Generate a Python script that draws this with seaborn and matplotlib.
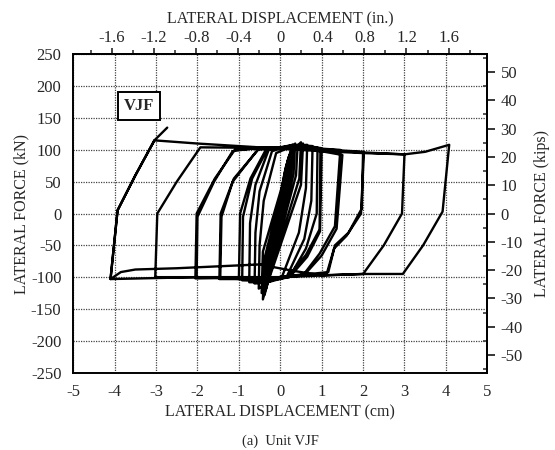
import numpy as np
import pandas as pd
import seaborn as sns
import matplotlib.pyplot as plt
from matplotlib.ticker import MultipleLocator, FixedLocator

# hysteresis path: displacement (cm), lateral force (kN)
# small cycles around the origin
inner_disp = [0.00, 0.08, 0.06, -0.05, -0.10, -0.08, 0.06, 0.12, 0.10, -0.08, -0.15,
              -0.12, 0.08, 0.16, 0.13, -0.12, -0.20, -0.17, 0.10, 0.20, 0.17, -0.15, -0.25,
              -0.22, 0.13, 0.25, 0.22, -0.20, -0.30, -0.27, 0.17, 0.30, 0.26, -0.22, -0.34,
              -0.30, 0.20, 0.36, 0.32, -0.25, -0.38, -0.34, 0.25, 0.42, 0.38, -0.28, -0.42,
              -0.38, 0.28, 0.50, 0.46, -0.30, -0.45, -0.42, 0.30, 0.55, 0.50, -0.30, -0.52]
inner_force = [0, 38, 20, -25, -40, -20, 35, 55, 30, -38, -58,
               -30, 48, 72, 40, -52, -75, -40, 62, 88, 50, -65, -92,
               -50, 72, 98, 55, -78, -105, -58, 80, 105, 60, -88, -118,
               -65, 88, 110, 62, -95, -128, -70, 92, 108, 60, -100, -135,
               -70, 98, 112, 55, -105, -125, -60, 100, 110, 45, -108, -118]

# medium cycles, about +/-0.6 to +/-1.5 cm
mid_disp = [-0.50, -0.40, -0.10, 0.30, 0.65, 0.62, 0.45, 0.05, -0.30, -0.62,
            -0.60, -0.50, -0.20, 0.30, 0.78, 0.75, 0.58, 0.15, -0.30, -0.75,
            -0.73, -0.60, -0.28, 0.30, 0.90, 0.88, 0.62, 0.22, -0.30, -0.92,
            -0.90, -0.68, -0.32, 0.30, 0.97, 0.95, 0.62, 0.20, -0.30, -1.00,
            -0.97, -0.72, -0.35, 0.30, 1.00, 0.96, 0.65, 0.25, -0.30, -1.45,
            -1.42, -1.15, -0.55, 0.30, 1.50, 1.36, 1.00, 0.60, -0.30, -1.47,
            -1.44, -1.12, -0.50, 0.30, 1.45, 1.32, 0.95, 0.55, -0.30, -2.02]
mid_force = [-50, 20, 95, 106, 108, 40, -30, -98, -108, -110,
             -30, 35, 98, 108, 106, 20, -40, -100, -108, -108,
             -15, 45, 100, 108, 104, 0, -55, -100, -106, -105,
             -5, 55, 100, 106, 103, -25, -65, -98, -105, -103,
             0, 55, 100, 106, 102, -28, -68, -98, -104, -102,
             -5, 50, 100, 106, 92, -24, -66, -95, -103, -103,
             0, 55, 103, 105, 100, -20, -63, -97, -104, -100]

# large cycles: 2, 3 and 4 cm, then the last reloading branch
outer_disp = [-2.00, -1.60, -1.15, -0.50, 0.50, 2.00, 1.97, 1.65, 1.32, 1.16, 0.00, -2.05,
              -2.02, -1.58, -1.10, 0.00, 2.02, 1.95, 1.60, 1.30, 1.12, 0.00, -3.02,
              -2.97, -2.50, -1.93, 0.00, 2.00, 3.00, 2.94, 2.50, 2.00, 0.00, -2.00, -4.10,
              -3.93, -3.50, -3.04, -2.00, -1.00, 0.00, 1.00, 2.00, 3.00, 3.50, 4.08,
              3.92, 3.45, 2.96, 2.00, 1.00, 0.30, -0.50, -1.50, -2.50, -3.50, -3.85, -4.10,
              -3.93, -3.50, -3.04, -2.73]
outer_force = [-5, 50, 98, 104, 103, 97, 8, -30, -50, -92, -100, -102,
               0, 55, 100, 104, 96, 0, -35, -55, -95, -100, -100,
               0, 50, 104, 103, 96, 93, 0, -50, -95, -100, -100, -103,
               5, 60, 115, 110, 106, 102, 98, 95, 93, 97, 108,
               3, -50, -95, -95, -97, -90, -80, -83, -86, -88, -92, -103,
               5, 60, 115, 135]

cm_ticks = [-5, -4, -3, -2, -1, 0, 1, 2, 3, 4, 5]
kn_ticks = [-250, -200, -150, -100, -50, 0, 50, 100, 150, 200, 250]
in_ticks = [-1.6, -1.2, -0.8, -0.4, 0, 0.4, 0.8, 1.2, 1.6]
in_labels = ['-1.6', '-1.2', '-0.8', '-0.4', '0', '0.4', '0.8', '1.2', '1.6']
kip_ticks = [-50, -40, -30, -20, -10, 0, 10, 20, 30, 40, 50]

KN_PER_KIP = 4.448
CM_PER_IN = 2.54

path = pd.DataFrame({
    'disp': inner_disp + mid_disp + outer_disp,
    'force': inner_force + mid_force + outer_force,
})

sns.set_style('white')
plt.rcParams['font.family'] = ['Liberation Serif', 'DejaVu Serif']
plt.rcParams['axes.unicode_minus'] = False

fig = plt.figure(figsize=(5.55, 4.5), dpi=100)
ax = fig.add_axes([0.132, 0.172, 0.746, 0.707])

sns.lineplot(data=path, x='disp', y='force', sort=False, estimator=None,
             color='black', linewidth=1.7, ax=ax)

ax.set_xlim(-5, 5)
ax.set_ylim(-250, 250)
ax.xaxis.set_major_locator(FixedLocator(cm_ticks))
ax.yaxis.set_major_locator(FixedLocator(kn_ticks))
ax.xaxis.set_minor_locator(MultipleLocator(0.5))
ax.yaxis.set_minor_locator(MultipleLocator(25))
ax.grid(True, which='major', color='#444444', linestyle=(0, (1, 1)), linewidth=0.9)
for s in ax.spines.values():
    s.set_linewidth(1.4)
    s.set_color('black')
ax.tick_params(which='major', direction='out', length=5, width=1.3, labelsize=12)
ax.tick_params(which='minor', direction='in', length=3, width=1.1)
ax.tick_params(axis='x', which='both', top=False)
ax.tick_params(axis='y', which='both', right=False)

ax.set_xlabel('LATERAL DISPLACEMENT (cm)', fontsize=11.5, labelpad=3)
ax.set_ylabel('LATERAL FORCE (kN)', fontsize=11.5, labelpad=1)

top = ax.secondary_xaxis('top', functions=(lambda x: x / CM_PER_IN, lambda x: x * CM_PER_IN))
top.set_xticks(in_ticks, labels=in_labels)
top.xaxis.set_minor_locator(MultipleLocator(0.2))
top.tick_params(which='major', direction='out', length=4, width=1.2, labelsize=12, pad=2)
top.tick_params(which='minor', direction='out', length=3, width=1.1)
top.set_xlabel('LATERAL DISPLACEMENT (in.)', fontsize=11.5, labelpad=5)

right = ax.secondary_yaxis('right', functions=(lambda y: y / KN_PER_KIP, lambda y: y * KN_PER_KIP))
right.set_yticks(kip_ticks)
right.yaxis.set_minor_locator(MultipleLocator(5))
right.tick_params(which='major', direction='out', length=6, width=1.3, labelsize=12)
right.tick_params(which='minor', direction='in', length=3, width=1.1)
right.set_ylabel('LATERAL FORCE (kips)', fontsize=11.5, labelpad=8)
for s in top.spines.values():
    s.set_linewidth(1.4)
for s in right.spines.values():
    s.set_linewidth(1.4)

ax.text(-3.41, 169, 'VJF', fontsize=12, fontweight='bold', ha='center', va='center',
        bbox=dict(boxstyle='square,pad=0.35', fc='white', ec='black', lw=1.4))

fig.text(0.505, 0.004, '(a)  Unit VJF', fontsize=10.5, ha='center', va='bottom')

fig.savefig('out.png', dpi=100, facecolor='white')
